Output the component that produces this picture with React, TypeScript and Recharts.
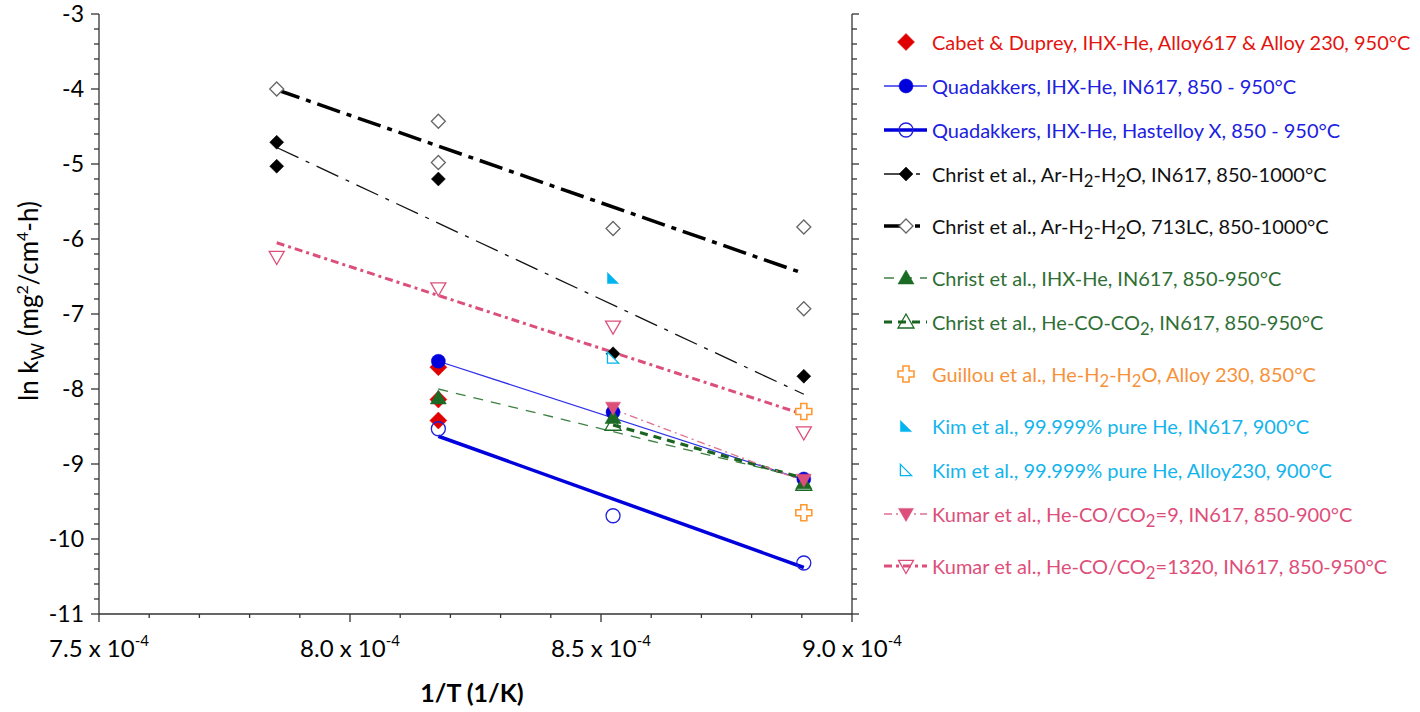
import React from 'react';
import { ScatterChart, Scatter, XAxis, YAxis } from 'recharts';

// x values are 1/T in units of 1e-4 1/K (1000, 950, 900, 850 °C)
const cabetX = [8.176, 8.176, 8.176];
const cabetY = [-7.71, -8.14, -8.42];
const quad617X = [8.176, 8.524, 8.904];
const quad617Y = [-7.63, -8.31, -9.2];
const quadHastX = [8.176, 8.524, 8.904];
const quadHastY = [-8.53, -9.69, -10.32];
const christ617X = [7.854, 7.854, 8.176, 8.524, 8.904];
const christ617Y = [-4.71, -5.03, -5.2, -7.53, -7.83];
const christ713X = [7.854, 8.176, 8.176, 8.524, 8.904, 8.904];
const christ713Y = [-4.0, -4.43, -4.98, -5.86, -5.84, -6.93];
const christIhxX = [8.176, 8.524, 8.904];
const christIhxY = [-8.12, -8.38, -9.25];
const christCoX = [8.524, 8.904];
const christCoY = [-8.47, -9.27];
const guillouX = [8.904, 8.904];
const guillouY = [-8.3, -9.65];
const kim617X = [8.524];
const kim617Y = [-6.52];
const kim230X = [8.524];
const kim230Y = [-7.58];
const kumar9X = [8.524, 8.904];
const kumar9Y = [-8.25, -9.21];
const kumar1320X = [7.854, 8.176, 8.524, 8.904];
const kumar1320Y = [-6.24, -6.66, -7.17, -8.58];

// linear fits (start / end)
const fitQuad617X = [8.176, 8.904];
const fitQuad617Y = [-7.63, -9.21];
const fitQuadHastX = [8.176, 8.904];
const fitQuadHastY = [-8.63, -10.38];
const fitChrist617X = [7.854, 8.904];
const fitChrist617Y = [-4.78, -8.07];
const fitChrist713X = [7.854, 8.904];
const fitChrist713Y = [-4.01, -6.46];
const fitIhxX = [8.176, 8.904];
const fitIhxY = [-8.0, -9.19];
const fitCoX = [8.524, 8.904];
const fitCoY = [-8.48, -9.19];
const fitKumar9X = [8.524, 8.904];
const fitKumar9Y = [-8.27, -9.23];
const fitKumar1320X = [7.854, 8.904];
const fitKumar1320Y = [-6.05, -8.34];

const X_MAJOR = [7.5, 8.0, 8.5, 9.0];
const X_TICKS = [7.5, 7.6, 7.7, 7.8, 7.9, 8.0, 8.1, 8.2, 8.3, 8.4, 8.5, 8.6, 8.7, 8.8, 8.9, 9.0];
const Y_MAJOR = [-11, -10, -9, -8, -7, -6, -5, -4, -3];
const Y_TICKS: number[] = [];
for (let i = -110; i <= -30; i += 2) Y_TICKS.push(i / 10);

const FONT = 'Lato, "Open Sans", sans-serif';
const AXIS = '#333';

const pts = (xs: number[], ys: number[]) => xs.map((x, i) => ({ x, y: ys[i] }));
const isMajor = (list: number[], v: number) => list.some((t) => Math.abs(t - v) < 1e-6);

type Kind = 'diamond' | 'circle' | 'tri' | 'triDown' | 'cross' | 'rightTri';
interface Mk { kind: Kind; color: string; filled: boolean; s: number; stroke?: string }
interface Fit { xs: number[]; ys: number[]; stroke: string; width: number; dash?: string }
interface Series {
  name: React.ReactNode;
  sub: boolean;
  text: string;
  xs: number[];
  ys: number[];
  mk: Mk;
  fit?: Fit;
}

function Marker({ cx, cy, mk }: { cx: number; cy: number; mk: Mk }) {
  const { kind, color, filled, s } = mk;
  const fill = filled ? color : mk.stroke ? '#fff' : 'none';
  const stroke = mk.stroke || color;
  const sw = filled ? 0.5 : 1.3;
  if (kind === 'circle') return <circle cx={cx} cy={cy} r={s} fill={fill} stroke={stroke} strokeWidth={sw} />;
  let p: number[][] = [];
  if (kind === 'diamond') p = [[0, -s], [s, 0], [0, s], [-s, 0]];
  if (kind === 'tri') p = [[0, -s], [s, s * 0.75], [-s, s * 0.75]];
  if (kind === 'triDown') p = [[-s, -s * 0.75], [s, -s * 0.75], [0, s]];
  if (kind === 'rightTri') p = [[-s * 0.8, -s * 0.8], [s * 0.8, s * 0.8], [-s * 0.8, s * 0.8]];
  if (kind === 'cross') {
    const a = s * 0.38;
    p = [[-a, -s], [a, -s], [a, -a], [s, -a], [s, a], [a, a], [a, s], [-a, s], [-a, a], [-s, a], [-s, -a], [-a, -a]];
  }
  return (
    <polygon
      points={p.map(([dx, dy]) => `${cx + dx},${cy + dy}`).join(' ')}
      fill={fill}
      stroke={stroke}
      strokeWidth={kind === 'cross' ? 1.6 : sw}
    />
  );
}

const RED = '#E00000';
const BLUE = '#0000DD';
const GREEN = '#1B6B24';
const ORANGE = '#FF9933';
const CYAN = '#00B4F0';
const PINK = '#DD4F7B';

const series: Series[] = [
  {
    name: <>Cabet &amp; Duprey, IHX-He, Alloy617 &amp; Alloy 230, 950°C</>,
    sub: false, text: '#E3140F', xs: cabetX, ys: cabetY,
    mk: { kind: 'diamond', color: RED, filled: true, s: 8.5 },
  },
  {
    name: <>Quadakkers, IHX-He, IN617, 850 - 950°C</>,
    sub: false, text: '#2020E0', xs: quad617X, ys: quad617Y,
    mk: { kind: 'circle', color: BLUE, filled: true, s: 7 },
    fit: { xs: fitQuad617X, ys: fitQuad617Y, stroke: '#3030E8', width: 1.3 },
  },
  {
    name: <>Quadakkers, IHX-He, Hastelloy X, 850 - 950°C</>,
    sub: false, text: '#2020E0', xs: quadHastX, ys: quadHastY,
    mk: { kind: 'circle', color: '#2020DD', filled: false, s: 7 },
    fit: { xs: fitQuadHastX, ys: fitQuadHastY, stroke: BLUE, width: 3.5 },
  },
  {
    name: <>Christ et al., Ar-H<sub>2</sub>-H<sub>2</sub>O, IN617, 850-1000°C</>,
    sub: true, text: '#111', xs: christ617X, ys: christ617Y,
    mk: { kind: 'diamond', color: '#000', filled: true, s: 7 },
    fit: { xs: fitChrist617X, ys: fitChrist617Y, stroke: '#111', width: 1.3, dash: '24 8 4 8' },
  },
  {
    name: <>Christ et al., Ar-H<sub>2</sub>-H<sub>2</sub>O, 713LC, 850-1000°C</>,
    sub: true, text: '#111', xs: christ713X, ys: christ713Y,
    mk: { kind: 'diamond', color: '#666', filled: false, s: 7, stroke: '#666' },
    fit: { xs: fitChrist713X, ys: fitChrist713Y, stroke: '#000', width: 3.5, dash: '24 7 5 7' },
  },
  {
    name: <>Christ et al., IHX-He, IN617, 850-950°C</>,
    sub: false, text: '#2F6F35', xs: christIhxX, ys: christIhxY,
    mk: { kind: 'tri', color: GREEN, filled: true, s: 8 },
    fit: { xs: fitIhxX, ys: fitIhxY, stroke: '#3E8044', width: 1.3, dash: '10 8' },
  },
  {
    name: <>Christ et al., He-CO-CO<sub>2</sub>, IN617, 850-950°C</>,
    sub: true, text: '#2F6F35', xs: christCoX, ys: christCoY,
    mk: { kind: 'tri', color: GREEN, filled: false, s: 8 },
    fit: { xs: fitCoX, ys: fitCoY, stroke: '#1B6320', width: 3.2, dash: '8 6' },
  },
  {
    name: <>Guillou et al., He-H<sub>2</sub>-H<sub>2</sub>O, Alloy 230, 850°C</>,
    sub: true, text: '#F7923A', xs: guillouX, ys: guillouY,
    mk: { kind: 'cross', color: ORANGE, filled: false, s: 8, stroke: ORANGE },
  },
  {
    name: <>Kim et al., 99.999% pure He, IN617, 900°C</>,
    sub: false, text: '#14B4EC', xs: kim617X, ys: kim617Y,
    mk: { kind: 'rightTri', color: CYAN, filled: true, s: 7 },
  },
  {
    name: <>Kim et al., 99.999% pure He, Alloy230, 900°C</>,
    sub: false, text: '#14B4EC', xs: kim230X, ys: kim230Y,
    mk: { kind: 'rightTri', color: CYAN, filled: false, s: 7, stroke: CYAN },
  },
  {
    name: <>Kumar et al., He-CO/CO<sub>2</sub>=9, IN617, 850-900°C</>,
    sub: true, text: '#DE4E7A', xs: kumar9X, ys: kumar9Y,
    mk: { kind: 'triDown', color: PINK, filled: true, s: 7.5 },
    fit: { xs: fitKumar9X, ys: fitKumar9Y, stroke: '#E07090', width: 1.3, dash: '8 4 2 4' },
  },
  {
    name: <>Kumar et al., He-CO/CO<sub>2</sub>=1320, IN617, 850-950°C</>,
    sub: true, text: '#DE4E7A', xs: kumar1320X, ys: kumar1320Y,
    mk: { kind: 'triDown', color: PINK, filled: false, s: 7.5 },
    fit: { xs: fitKumar1320X, ys: fitKumar1320Y, stroke: PINK, width: 3, dash: '8 4 3 4' },
  },
];

function BottomTick({ x, y, payload }: any) {
  const v = payload.value;
  const major = isMajor(X_MAJOR, v);
  return (
    <g>
      <line x1={x} x2={x} y1={y} y2={y + (major ? 8 : 4)} stroke={AXIS} strokeWidth={1.3} />
      {major && (
        <text x={x} y={y + 43} textAnchor="middle" fontSize={24} fill="#000" fontFamily={FONT}>
          <tspan>{v.toFixed(1)} x 10</tspan>
          <tspan dy={-11} fontSize={15}>-4</tspan>
        </text>
      )}
    </g>
  );
}

function LeftTick({ x, y, payload }: any) {
  const v = payload.value;
  const major = isMajor(Y_MAJOR, v);
  return (
    <g>
      <line x1={x - (major ? 8 : 5)} x2={x} y1={y} y2={y} stroke={AXIS} strokeWidth={1.3} />
      {major && (
        <text x={x - 15} y={y} dy="0.36em" textAnchor="end" fontSize={23} fill="#000" fontFamily={FONT}>
          {String(v)}
        </text>
      )}
    </g>
  );
}

function RightTick({ x, y, payload }: any) {
  const major = isMajor(Y_MAJOR, payload.value);
  return <line x1={x} x2={x + (major ? 7 : 5)} y1={y} y2={y} stroke={AXIS} strokeWidth={1.3} />;
}

const emptyShape = () => <g />;

function LegendIcon({ s }: { s: Series }) {
  return (
    <svg width={48} height={22} style={{ position: 'absolute', left: 880, top: 0, overflow: 'visible' }}>
      {s.fit && (
        <line x1={4} x2={47} y1={11} y2={11} stroke={s.fit.stroke} strokeWidth={s.fit.width} strokeDasharray={s.fit.dash} />
      )}
      <Marker cx={26} cy={11} mk={s.mk} />
    </svg>
  );
}

export default function App() {
  let top = 31;
  const rows = series.map((s, i) => {
    const row = (
      <div key={i} style={{ position: 'absolute', left: 0, top, height: 22, width: 1420 }}>
        <LegendIcon s={s} />
        <div
          style={{
            position: 'absolute', left: 932, top: 0, lineHeight: '22px', fontSize: 20,
            color: s.text, whiteSpace: 'nowrap', fontFamily: FONT,
          }}
        >
          {s.name}
        </div>
      </div>
    );
    top += s.sub ? 52 : 44;
    return row;
  });

  return (
    <div style={{ position: 'absolute', left: 0, top: 0, width: 1420, height: 712, background: '#fff', fontFamily: FONT }}>
      <ScatterChart width={1420} height={712} margin={{ top: 14, right: 558, bottom: 0, left: 0 }}>
        <XAxis
          xAxisId="top"
          orientation="top"
          type="number"
          domain={[7.5, 9.0]}
          allowDataOverflow
          height={0}
          tick={false}
          tickLine={false}
          axisLine={{ stroke: AXIS, strokeWidth: 1.3 }}
        />
        <XAxis
          dataKey="x"
          type="number"
          domain={[7.5, 9.0]}
          allowDataOverflow
          ticks={X_TICKS}
          interval={0}
          height={98}
          tickSize={0}
          tickMargin={0}
          tickLine={false}
          tick={<BottomTick />}
          axisLine={{ stroke: AXIS, strokeWidth: 1.3 }}
        />
        <YAxis
          dataKey="y"
          type="number"
          domain={[-11, -3]}
          allowDataOverflow
          ticks={Y_TICKS}
          interval={0}
          width={99}
          tickSize={0}
          tickMargin={0}
          tickLine={false}
          tick={<LeftTick />}
          axisLine={{ stroke: AXIS, strokeWidth: 1.3 }}
        />
        <YAxis
          yAxisId="right"
          orientation="right"
          type="number"
          domain={[-11, -3]}
          allowDataOverflow
          ticks={Y_TICKS}
          interval={0}
          width={10}
          tickSize={0}
          tickMargin={0}
          tickLine={false}
          tick={<RightTick />}
          axisLine={{ stroke: AXIS, strokeWidth: 1.3 }}
        />
        {series
          .filter((s) => s.fit)
          .map((s, i) => (
            <Scatter
              key={`fit${i}`}
              data={pts(s.fit!.xs, s.fit!.ys)}
              line={{ stroke: s.fit!.stroke, strokeWidth: s.fit!.width, strokeDasharray: s.fit!.dash }}
              shape={emptyShape}
              legendType="none"
              isAnimationActive={false}
            />
          ))}
        {series.map((s, i) => (
          <Scatter
            key={`pts${i}`}
            data={pts(s.xs, s.ys)}
            shape={(p: any) => <Marker cx={p.cx} cy={p.cy} mk={s.mk} />}
            legendType="none"
            isAnimationActive={false}
          />
        ))}
      </ScatterChart>

      {rows}

      <div
        style={{
          position: 'absolute', left: 30, top: 301, transform: 'translate(-50%, -50%) rotate(-90deg)',
          fontSize: 26, whiteSpace: 'nowrap', color: '#000',
        }}
      >
        ln k<sub style={{ fontSize: 17 }}>W</sub> (mg<sup style={{ fontSize: 16 }}>2</sup>/cm
        <sup style={{ fontSize: 16 }}>4</sup>-h)
      </div>
      <div
        style={{
          position: 'absolute', left: 472, top: 692, transform: 'translate(-50%, -50%)',
          fontSize: 25, fontWeight: 'bold', whiteSpace: 'nowrap', color: '#000',
        }}
      >
        1/T (1/K)
      </div>
    </div>
  );
}
